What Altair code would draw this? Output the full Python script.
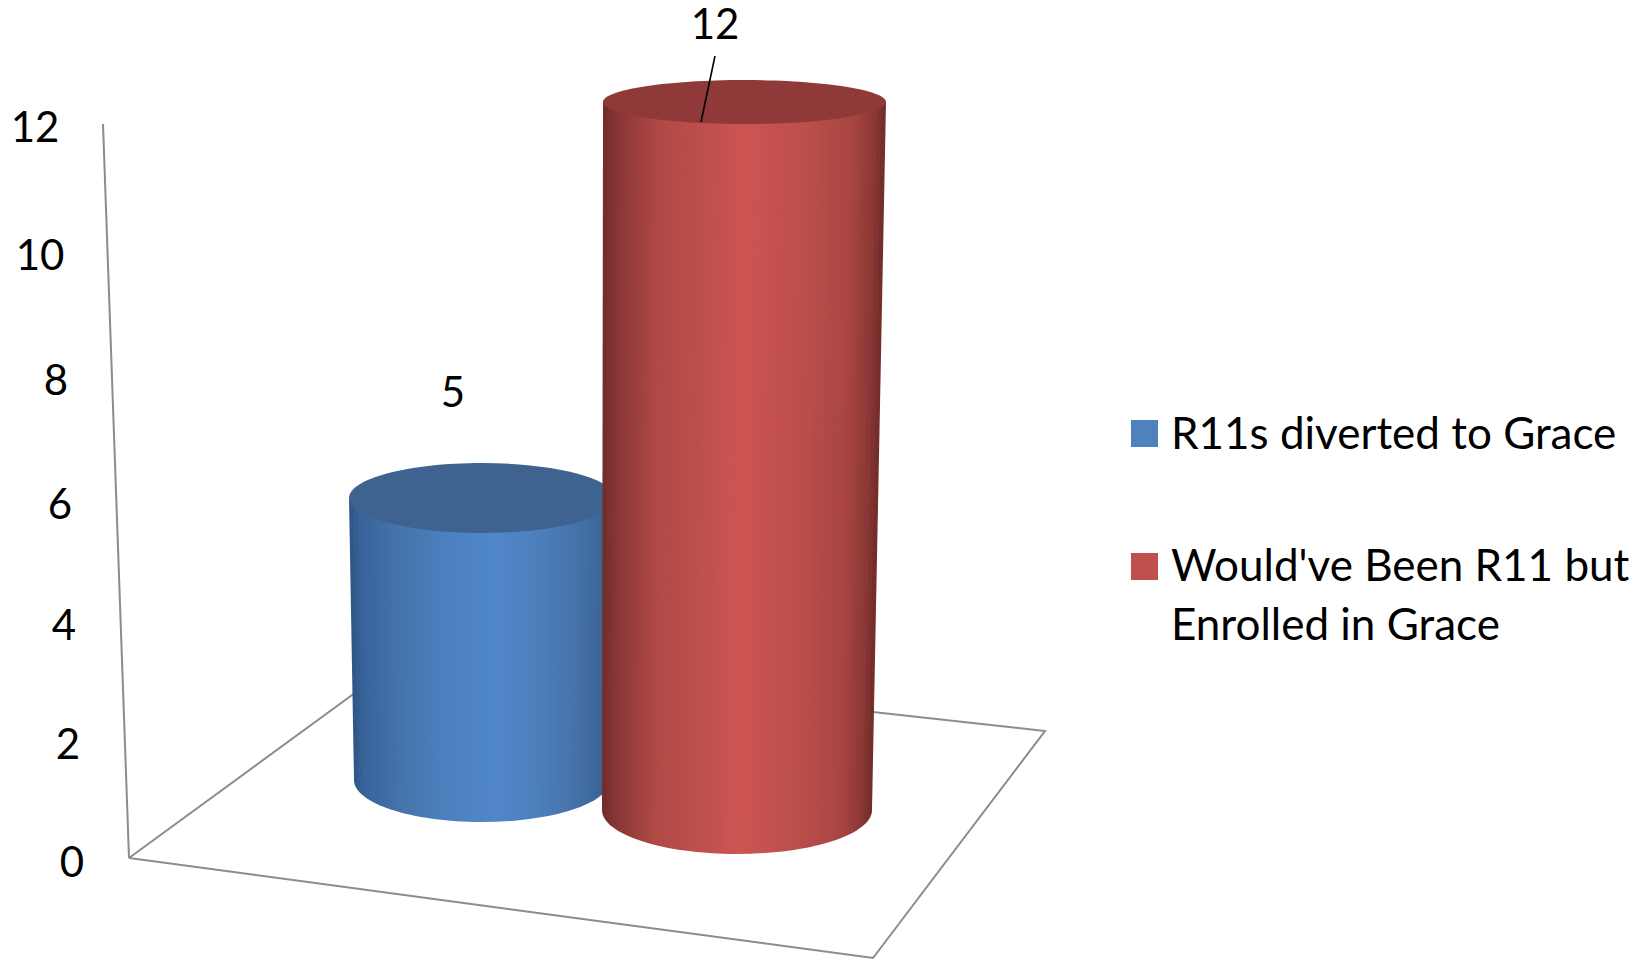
import altair as alt
import pandas as pd

# ---- chart values ----
series = ["R11s diverted to Grace", "Would've Been R11 but Enrolled in Grace"]
values = [5, 12]
tick_labels = [0, 2, 4, 6, 8, 10, 12]
legend_lines = ["R11s diverted to Grace", "Would've Been R11 but", "Enrolled in Grace"]

# ---- drawing geometry (perspective of the picture, in picture pixels) ----
FONT = "Lato"
FS = 42
FS_LEGEND = 44
tick_x = [72, 68, 64, 60, 56, 40, 35]
tick_y = [864, 746, 627, 506, 382, 257, 129]
cyl = [
    dict(base=780, unit=56.4, top_l=349, top_r=615, bot_l=354, bot_r=610, ry_top=35, ry_bot=42,
         top_fill="#3e6391", label_x=453, label_y=394,
         stops=[(0, "#2e5484"), (0.04, "#38639a"), (0.2, "#4675ad"), (0.35, "#4c7fbd"), (0.55, "#5087ca"),
                (0.72, "#4c7fbb"), (0.87, "#4571a8"), (0.97, "#3b6494"), (1, "#345a88")]),
    dict(base=810, unit=59.0, top_l=603, top_r=886, bot_l=602, bot_r=872, ry_top=22, ry_bot=44,
         top_fill="#8f3a38", label_x=715, label_y=26,
         stops=[(0, "#6f2c2a"), (0.05, "#873634"), (0.2, "#b04a47"), (0.38, "#bf504d"), (0.5, "#cd5552"),
                (0.7, "#bd4f4c"), (0.88, "#a94643"), (0.96, "#8b3735"), (1, "#6f2c2a")]),
]
wall = {"x": [103, 129], "y": [124, 858]}
floor = {"x": [129, 400, 1045, 873, 129], "y": [858, 660, 731, 958, 858]}
leader = {"x": [715, 701], "y": [56, 122]}
legend_sq = {"x": [1131, 1131], "x2": [1158, 1158], "y": [420, 553], "y2": [447, 580], "color": ["#4f81bd", "#c0504d"]}
legend_txt = {"x": [1171, 1171, 1171], "y": [449, 581, 640]}
N_BANDS = 64

xs = alt.Scale(domain=[8, 1639])
ys = alt.Scale(domain=[960, 8])
X = lambda f="x": alt.X(f"{f}:Q", scale=xs, axis=None)
Y = lambda f="y": alt.Y(f"{f}:Q", scale=ys, axis=None)


def polyline(pts):
    d = pd.DataFrame(pts)
    d["i"] = range(len(d))
    return alt.Chart(d).mark_line(color="#8c8c8c", strokeWidth=2).encode(x=X(), y=Y(), order="i:Q")


def ellipse(cx, cy, rx, ry, fill):
    k = ry / rx
    path = f"M-1,0A1,{k:.4f},0,1,1,1,0A1,{k:.4f},0,1,1,-1,0Z"
    d = pd.DataFrame({"x": [cx], "y": [cy]})
    return alt.Chart(d).mark_point(shape=path, filled=True, fill=fill, opacity=1, strokeWidth=0,
                                   size=(2 * rx) ** 2).encode(x=X(), y=Y())


def shade(stops, t):
    for (o0, c0), (o1, c1) in zip(stops, stops[1:]):
        if t <= o1:
            f = (t - o0) / (o1 - o0)
            a = [int(c0[i:i + 2], 16) for i in (1, 3, 5)]
            b = [int(c1[i:i + 2], 16) for i in (1, 3, 5)]
            return "#%02x%02x%02x" % tuple(round(p + (q - p) * f) for p, q in zip(a, b))
    return stops[-1][1]


def body_bands(c, top):
    rows = []
    for k in range(N_BANDS):
        t0, t1 = k / N_BANDS, (k + 1) / N_BANDS
        col = shade(c["stops"], (t0 + t1) / 2)
        for y, l, r in ((top, c["top_l"], c["top_r"]), (c["base"], c["bot_l"], c["bot_r"])):
            w = r - l
            rows.append({"band": k, "y": y, "xl": l + t0 * w,
                         "xr": min(r, l + t1 * w + 2), "c": col})
    return alt.Chart(pd.DataFrame(rows)).mark_area(orient="horizontal").encode(
        y=Y(), x=alt.X("xl:Q", scale=xs, axis=None, stack=None), x2="xr:Q",
        detail="band:N", color=alt.Color("c:N", scale=None, legend=None))


layers = [polyline(wall), polyline(floor)]

for value, c in zip(values, cyl):
    grad = alt.LinearGradient(gradient="linear", x1=0, x2=1, y1=0, y2=0,
                              stops=[alt.GradientStop(offset=o, color=col) for o, col in c["stops"]])
    top = c["base"] - value * c["unit"]
    layers.append(ellipse((c["bot_l"] + c["bot_r"]) / 2, c["base"], (c["bot_r"] - c["bot_l"]) / 2, c["ry_bot"], grad))
    layers.append(body_bands(c, top))
    layers.append(ellipse((c["top_l"] + c["top_r"]) / 2, top, (c["top_r"] - c["top_l"]) / 2, c["ry_top"], c["top_fill"]))

leader_df = pd.DataFrame(leader)
leader_df["i"] = range(2)
layers.append(alt.Chart(leader_df).mark_line(color="#000000", strokeWidth=1.6).encode(x=X(), y=Y(), order="i:Q"))

text_kw = dict(font=FONT, fontSize=FS, color="#000000")
ticks_df = pd.DataFrame({"x": tick_x, "y": tick_y, "t": [str(v) for v in tick_labels]})
layers.append(alt.Chart(ticks_df).mark_text(align="center", baseline="middle", **text_kw).encode(x=X(), y=Y(), text="t:N"))

val_df = pd.DataFrame({"x": [c["label_x"] for c in cyl], "y": [c["label_y"] for c in cyl], "t": [str(v) for v in values]})
layers.append(alt.Chart(val_df).mark_text(align="center", baseline="middle", **text_kw).encode(x=X(), y=Y(), text="t:N"))

sq_df = pd.DataFrame(legend_sq)
layers.append(alt.Chart(sq_df).mark_rect().encode(
    x=X(), x2="x2:Q", y=Y(), y2="y2:Q", color=alt.Color("color:N", scale=None, legend=None)))

txt_df = pd.DataFrame(legend_txt)
txt_df["t"] = legend_lines
layers.append(alt.Chart(txt_df).mark_text(align="left", baseline="alphabetic", font=FONT, fontSize=FS_LEGEND,
                                          color="#000000").encode(x=X(), y=Y(), text="t:N"))

chart = alt.layer(*layers).properties(
    width=1631, height=952, padding=0, autosize=alt.AutoSizeParams(type="none"),
    background="#ffffff"
).configure_view(stroke=None)

chart.save("out.html", embed_options={"renderer": "svg", "actions": False})
